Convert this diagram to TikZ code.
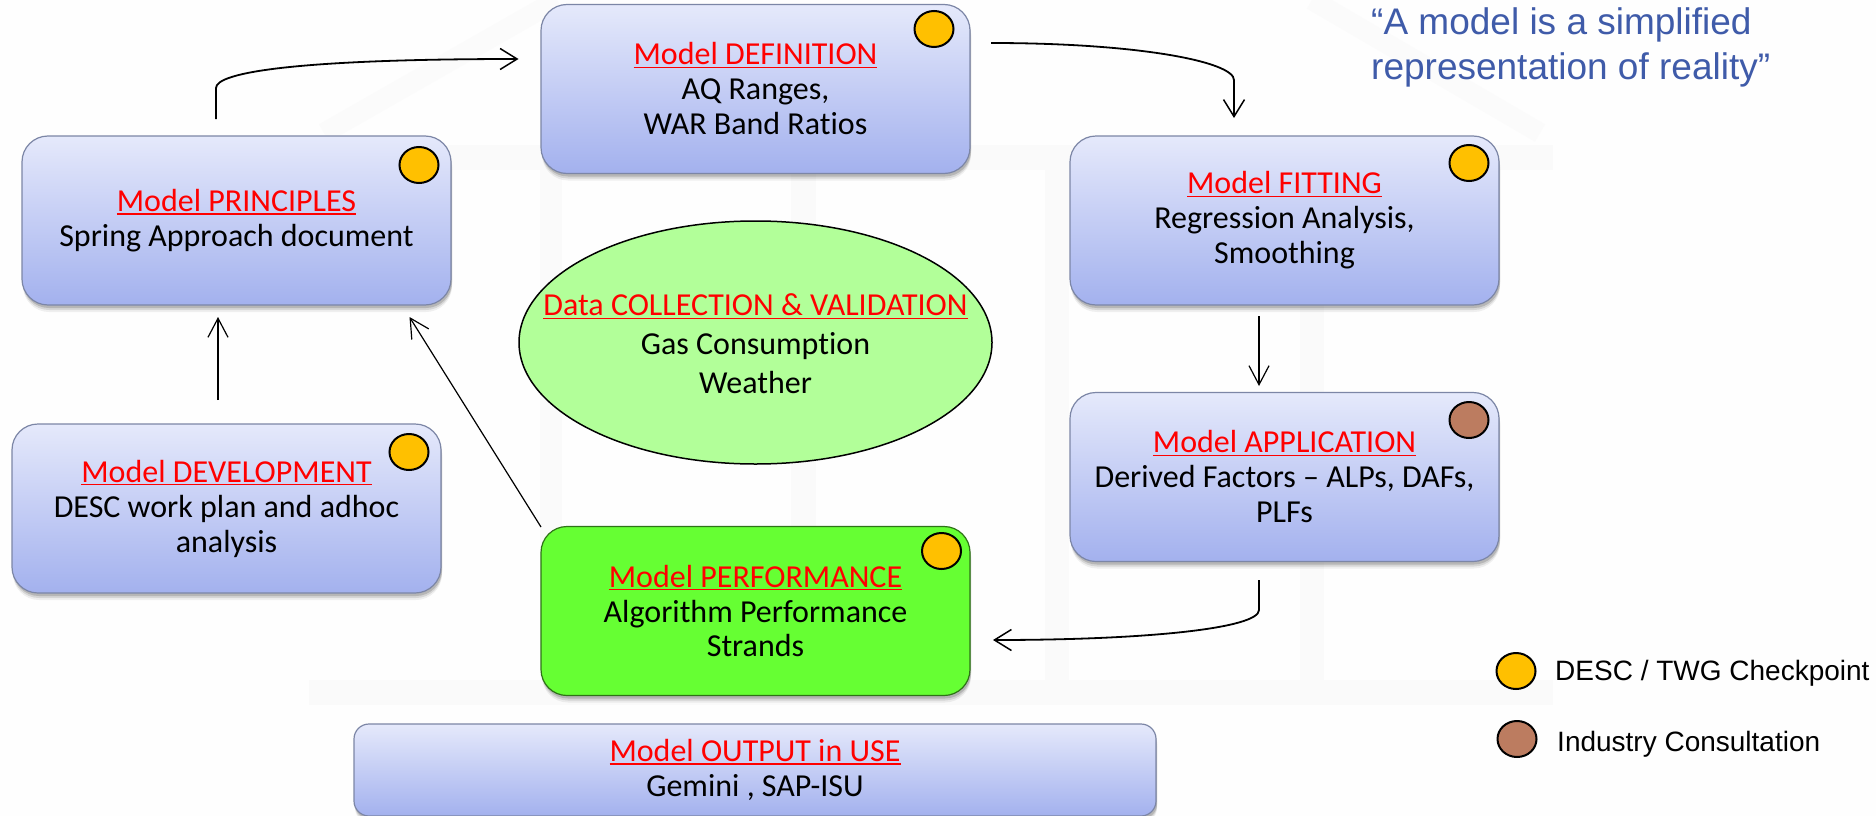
\documentclass[tikz,border=0pt]{standalone}
\usepackage{fontspec}
\setmainfont[Ligatures=NoCommon]{Carlito}
\newfontfamily\arialfont{Liberation Sans}
\usetikzlibrary{shapes.geometric,shadows,arrows.meta}
\newsavebox{\ttlbox}
\newcommand{\ttl}[1]{\sbox{\ttlbox}{#1}\textcolor{red}{\rlap{\rule[-3.4pt]{\wd\ttlbox}{1.6pt}}#1}}
\definecolor{boxtop}{HTML}{E5E9FB}
\definecolor{boxbot}{HTML}{A3B1EE}
\definecolor{boxedge}{HTML}{7C86A6}
\definecolor{perfgreen}{HTML}{66FF33}
\definecolor{ovalgreen}{HTML}{B2FF99}
\definecolor{amberdot}{HTML}{FFC000}
\definecolor{browndot}{HTML}{BC7C60}
\definecolor{quoteblue}{HTML}{3F5BA9}
\definecolor{housegrey}{HTML}{FAFAFA}
\definecolor{roofgrey}{HTML}{FBFBFB}
\definecolor{pagebg}{HTML}{FEFEFE}
\tikzset{
  x=1pt,y=-1pt,
  modelbox/.style={rounded corners=26pt,draw=boxedge,line width=1.2pt,
    top color=boxtop,bottom color=boxbot,
    drop shadow={shadow xshift=1pt,shadow yshift=-7pt,opacity=.06,fill=black},
    drop shadow={shadow xshift=1pt,shadow yshift=-5pt,opacity=.10,fill=black},
    drop shadow={shadow xshift=1pt,shadow yshift=-3pt,opacity=.15,fill=black},
    minimum width=429pt,minimum height=169pt,align=center,inner sep=0pt,
    font=\fontsize{32}{35}\selectfont},
  greenbox/.style={modelbox,top color=perfgreen,bottom color=perfgreen,draw=black!55!perfgreen},
  outbox/.style={modelbox,rounded corners=15pt,minimum width=802pt,minimum height=92pt},
  oval/.style={ellipse,draw=black,line width=1.5pt,fill=ovalgreen,minimum width=473pt,minimum height=243pt,inner sep=0pt},
  ovaltext/.style={align=center,inner sep=0pt,font=\fontsize{32}{39}\selectfont},
  dot/.style={ellipse,draw=black,line width=2pt,minimum width=39pt,minimum height=36pt,inner sep=0pt},
  amber/.style={dot,fill=amberdot},
  brown/.style={dot,fill=browndot},
  curvearrow/.style={draw=black,line width=1.8pt,-{Straight Barb[length=17pt,width=21pt,line width=1.5pt]}},
  straightarrow/.style={draw=black,line width=1.2pt,-{Straight Barb[length=19pt,width=20pt,line width=1.2pt]}},
  quote/.style={anchor=west,align=left,inner sep=0pt,text=quoteblue,font=\arialfont\fontsize{37}{45}\selectfont},
  legendtext/.style={anchor=west,inner sep=0pt,font=\arialfont\fontsize{28}{30}\selectfont},
  houseband/.style={fill=housegrey,draw=none},
}
\begin{document}
\begin{tikzpicture}
\useasboundingbox (0,0) rectangle (1876,816);
\fill[pagebg] (0,0) rectangle (1876,816);
% faint house watermark
\draw[roofgrey,line width=20pt] (324,133) -- (557,0);
\draw[roofgrey,line width=20pt] (1312,0) -- (1540,133);
\fill[houseband] (309,145) rectangle (1553,170);
\fill[houseband] (309,680) rectangle (1553,705);
\fill[houseband] (540,170) rectangle (562,680);
\fill[houseband] (791,170) rectangle (816,680);
\fill[houseband] (1045,170) rectangle (1069,680);
\fill[houseband] (1300,170) rectangle (1324,680);
% boxes
\node[modelbox] (prin) at (236.5,220.5) {\ttl{Model PRINCIPLES}\\Spring Approach document};
\node[modelbox] (defn) at (755.5,89) {\ttl{Model DEFINITION}\\AQ Ranges,\\WAR Band Ratios};
\node[modelbox] (fitt) at (1284.5,220.5) {\ttl{Model FITTING}\\Regression Analysis,\\Smoothing};
\node[modelbox] (appl) at (1284.5,477) {\ttl{Model APPLICATION}\\Derived Factors – ALPs, DAFs,\\PLFs};
\node[modelbox] (devl) at (226.5,508.5) {\ttl{Model DEVELOPMENT}\\DESC work plan and adhoc\\analysis};
\node[greenbox] (perf) at (755.5,611) {\ttl{Model PERFORMANCE}\\Algorithm Performance\\Strands};
\node[outbox] (outp) at (755,770) {\ttl{Model OUTPUT in USE}\\Gemini , SAP-ISU};
\node[oval] (data) at (755.5,342.5) {};
\node[ovaltext] (datatext) at (755.5,344) {\ttl{Data COLLECTION \& VALIDATION}\\Gas Consumption\\Weather};
% checkpoint dots
\node[amber] (dotprin) at (419,165) {};
\node[amber] (dotdefn) at (934,29) {};
\node[amber] (dotfitt) at (1469,163) {};
\node[brown] (dotappl) at (1469,420) {};
\node[amber] (dotdevl) at (409,452) {};
\node[amber] (dotperf) at (941.5,551) {};
% connector end points
\coordinate (prinOut) at (216,119);
\coordinate (prinBend) at (216,88);
\coordinate (defnIn) at (518.5,59);
\coordinate (defnOut) at (991,43);
\coordinate (fittBend) at (1234,80);
\coordinate (fittIn) at (1234,118);
\coordinate (fittOut) at (1259,316);
\coordinate (applIn) at (1259,386);
\coordinate (applOut) at (1259,580);
\coordinate (applBend) at (1259,610);
\coordinate (perfIn) at (993,640);
\coordinate (devlOut) at (218,400);
\coordinate (prinInA) at (218,317);
\coordinate (perfOut) at (541,527);
\coordinate (prinInB) at (409.5,317);
% connectors
\draw[curvearrow] (prinOut) -- (prinBend) .. controls (216,72) and (300,59) .. (defnIn);
\draw[curvearrow] (defnOut) .. controls (1140,43) and (1234,62) .. (fittBend) -- (fittIn);
\draw[straightarrow] (fittOut) -- (applIn);
\draw[curvearrow] (applOut) -- (applBend) .. controls (1259,628) and (1150,640) .. (perfIn);
\draw[straightarrow] (devlOut) -- (prinInA);
\draw[straightarrow] (perfOut) -- (prinInB);
% quote
\node[quote] (quotetext) at (1371,47) {“A model is a simplified\\representation of reality”};
% legend
\node[amber] (legA) at (1516,671) {};
\node[brown] (legB) at (1517,739) {};
\node[legendtext] (legAtext) at (1555,673) {DESC / TWG Checkpoint};
\node[legendtext] (legBtext) at (1557,744) {Industry Consultation};
\end{tikzpicture}
\end{document}
